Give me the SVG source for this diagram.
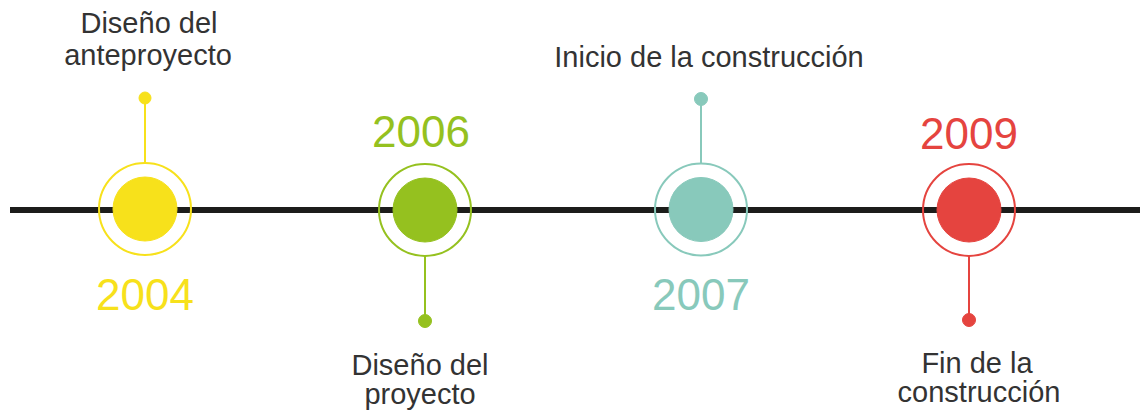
<svg xmlns="http://www.w3.org/2000/svg" width="1140" height="418" viewBox="0 0 1140 418">
<style>
.lbl{font-family:"Liberation Sans",Arial,sans-serif;font-size:29px;fill:#333;text-anchor:middle}
.yr{font-family:"Liberation Sans",Arial,sans-serif;font-size:44px;text-anchor:middle}
.ring{fill:none;stroke-width:2}
.stick{stroke-width:2}
.y{fill:#f7e11b;stroke:#f7e11b}
.g{fill:#95c11f;stroke:#95c11f}
.t{fill:#88c9bb;stroke:#88c9bb}
.r{fill:#e5443f;stroke:#e5443f}
</style>
<rect width="1140" height="418" fill="#fff"/>
<g id="connectors">
<line x1="10" y1="210" x2="1140" y2="210" stroke="#1d1d1b" stroke-width="6"/>
<line class="stick y" x1="145" y1="98" x2="145" y2="163"/>
<line class="stick g" x1="425" y1="256" x2="425" y2="320"/>
<line class="stick t" x1="701" y1="99" x2="701" y2="164"/>
<line class="stick r" x1="969" y1="256" x2="969" y2="319"/>
</g>
<g id="n2004">
<circle class="ring y" cx="145" cy="209" r="46" style="fill:none"/>
<circle class="y" cx="145" cy="209" r="32" stroke="none"/>
<circle class="y" cx="145" cy="98" r="6" stroke="none"/>
<text class="yr" x="145" y="310" fill="#f7e11b">2004</text>
<text class="lbl" x="149" y="33">Diseño del</text>
<text class="lbl" x="148" y="65">anteproyecto</text>
</g>
<g id="n2006">
<circle class="ring g" cx="425" cy="210" r="46" style="fill:none"/>
<circle class="g" cx="425" cy="210" r="32" stroke="none"/>
<circle class="g" cx="425" cy="321" r="6.5" stroke="none"/>
<text class="yr" x="421" y="147" fill="#95c11f">2006</text>
<text class="lbl" x="420" y="375">Diseño del</text>
<text class="lbl" x="420" y="404">proyecto</text>
</g>
<g id="n2007">
<circle class="ring t" cx="701" cy="209.5" r="46" style="fill:none"/>
<circle class="t" cx="701" cy="209.5" r="32" stroke="none"/>
<circle class="t" cx="701" cy="99" r="6.5" stroke="none"/>
<text class="yr" x="701" y="310" fill="#88c9bb">2007</text>
<text class="lbl" x="709" y="67">Inicio de la construcción</text>
</g>
<g id="n2009">
<circle class="ring r" cx="969" cy="210" r="46" style="fill:none"/>
<circle class="r" cx="969" cy="210" r="32" stroke="none"/>
<circle class="r" cx="969" cy="320" r="6.5" stroke="none"/>
<text class="yr" x="969" y="149" fill="#e5443f">2009</text>
<text class="lbl" x="977" y="373">Fin de la</text>
<text class="lbl" x="979" y="402">construcción</text>
</g>
</svg>
